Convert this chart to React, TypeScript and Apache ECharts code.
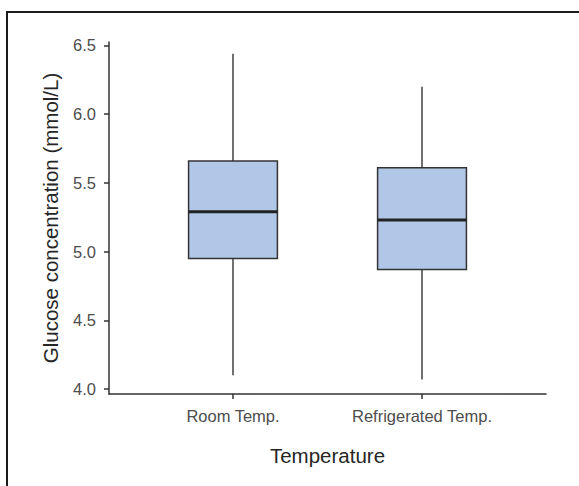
import React, { useEffect, useRef } from "react";
import * as echarts from "echarts";

const categories = ["Room Temp.", "Refrigerated Temp."];
const whiskerLow = [4.1, 4.07];
const q1 = [4.95, 4.87];
const median = [5.29, 5.23];
const q3 = [5.66, 5.61];
const whiskerHigh = [6.44, 6.2];
const yTicks = [4.0, 4.5, 5.0, 5.5, 6.0, 6.5];
const xPositions = [1, 2];

const FONT = "'Liberation Sans', Arial, Helvetica, sans-serif";

export default function App() {
  const ref = useRef<HTMLDivElement>(null);

  useEffect(() => {
    if (!ref.current) return;
    const chart = echarts.init(ref.current, undefined, { renderer: "svg" });

    const data = xPositions.map((x, i) => [
      x,
      whiskerLow[i],
      q1[i],
      median[i],
      q3[i],
      whiskerHigh[i],
    ]);

    const boxWidth = 0.47;

    chart.setOption({
      animation: false,
      backgroundColor: "#ffffff",
      grid: { left: 109, right: 33, top: 42, bottom: 92, containLabel: false },
      xAxis: {
        type: "value",
        min: 0.344,
        max: 2.656,
        name: "Temperature",
        nameLocation: "middle",
        nameGap: 51,
        nameTextStyle: { fontFamily: FONT, fontSize: 20.5, color: "#262626" },
        splitLine: { show: false },
        axisLine: { show: true, onZero: false, lineStyle: { color: "#333333", width: 1.5 } },
        axisTick: {
          show: true,
          length: 5,
          customValues: xPositions,
          lineStyle: { color: "#333333", width: 1.5 },
        },
        axisLabel: {
          show: true,
          customValues: xPositions,
          margin: 13,
          fontFamily: FONT,
          fontSize: 16.5,
          color: "#4d4d4d",
          formatter: (v: number) => categories[Math.round(v) - 1] ?? "",
        },
      },
      yAxis: {
        type: "value",
        min: 3.964,
        max: 6.525,
        name: "Glucose concentration (mmol/L)",
        nameLocation: "middle",
        nameRotate: 90,
        nameGap: 48,
        nameTextStyle: { fontFamily: FONT, fontSize: 20.5, color: "#262626" },
        splitLine: { show: false },
        axisLine: { show: true, onZero: false, lineStyle: { color: "#333333", width: 1.5 } },
        axisTick: {
          show: true,
          length: 5,
          customValues: yTicks,
          lineStyle: { color: "#333333", width: 1.5 },
        },
        axisLabel: {
          show: true,
          customValues: yTicks,
          margin: 13,
          fontFamily: FONT,
          fontSize: 16.5,
          color: "#4d4d4d",
          formatter: (v: number) => v.toFixed(1),
        },
      },
      graphic: [
        {
          type: "rect",
          shape: { x: 7, y: 12, width: 700, height: 600 },
          style: { fill: "none", stroke: "#1a1a1a", lineWidth: 2 },
          silent: true,
        },
      ],
      series: [
        {
          type: "custom",
          data,
          encode: { x: 0, y: [1, 2, 3, 4, 5] },
          renderItem: (params: any, api: any) => {
            const x = api.value(0);
            const pLow = api.coord([x, api.value(1)]);
            const pQ1 = api.coord([x, api.value(2)]);
            const pMed = api.coord([x, api.value(3)]);
            const pQ3 = api.coord([x, api.value(4)]);
            const pHigh = api.coord([x, api.value(5)]);
            const half = api.size([boxWidth, 0])[0] / 2;
            const cx = pMed[0];
            const stroke = "#333333";
            return {
              type: "group",
              children: [
                {
                  type: "line",
                  shape: { x1: cx, y1: pHigh[1], x2: cx, y2: pQ3[1] },
                  style: { stroke, lineWidth: 1.4 },
                },
                {
                  type: "line",
                  shape: { x1: cx, y1: pQ1[1], x2: cx, y2: pLow[1] },
                  style: { stroke, lineWidth: 1.4 },
                },
                {
                  type: "rect",
                  shape: {
                    x: cx - half,
                    y: pQ3[1],
                    width: half * 2,
                    height: pQ1[1] - pQ3[1],
                  },
                  style: { fill: "#b0c7e8", stroke, lineWidth: 1.5 },
                },
                {
                  type: "line",
                  shape: { x1: cx - half, y1: pMed[1], x2: cx + half, y2: pMed[1] },
                  style: { stroke: "#222222", lineWidth: 3 },
                },
              ],
            };
          },
        },
      ],
    });

    return () => chart.dispose();
  }, []);

  return (
    <div
      ref={ref}
      style={{ position: "fixed", left: 0, top: 0, width: 579, height: 486 }}
    />
  );
}
